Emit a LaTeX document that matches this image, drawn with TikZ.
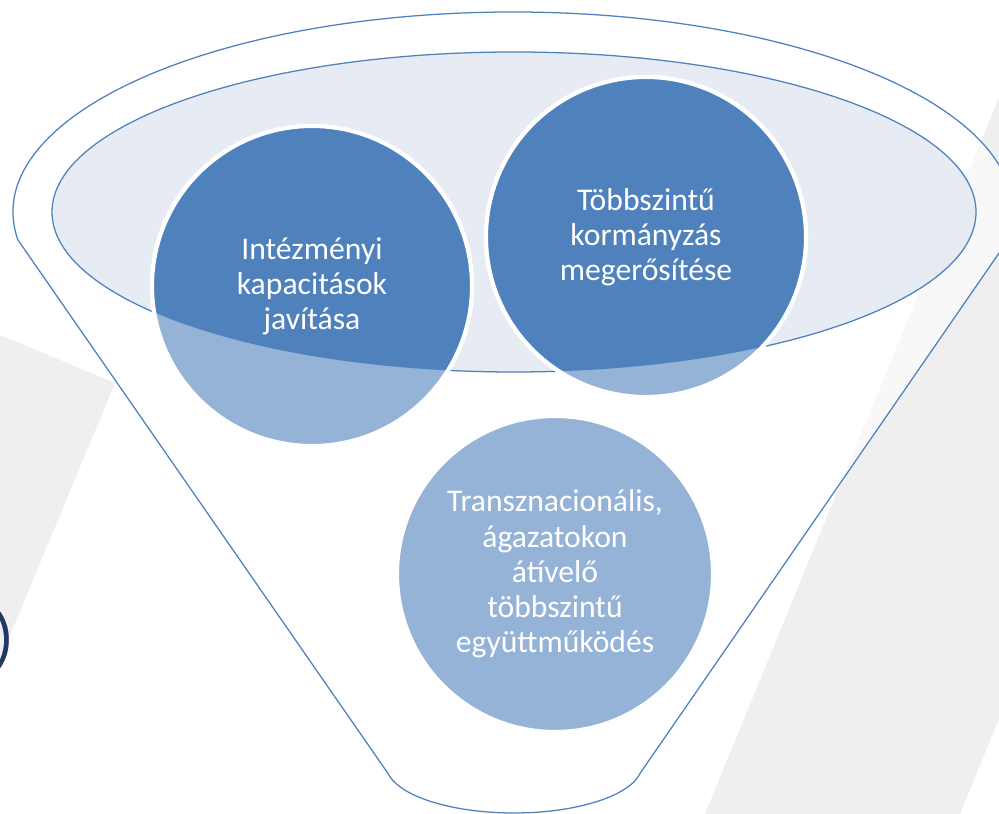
\documentclass[tikz,border=0pt]{standalone}
\usepackage{fontspec}
\setmainfont{Carlito}
\usepackage{xcolor}
\usepackage{tikz}
\definecolor{darkblue}{HTML}{4F81BD}
\definecolor{lightblue}{HTML}{95B3D7}
\definecolor{ellfill}{HTML}{E4E9F2}
\definecolor{bandgray}{HTML}{EFEFEF}
\definecolor{navy}{HTML}{1F3864}

\begin{document}
\begin{tikzpicture}[x=0.025cm, y=0.025cm,
    bubble/.style={circle, draw=white, line width=3pt, minimum size=8cm,
      inner sep=0pt, align=center, text=white,
      font=\fontsize{22.5}{25}\selectfont},
    rim/.style={draw=darkblue, line width=0.9pt}]
            \def \ecx {514}
            \def \ecy {602}
            \useasboundingbox (0,0) rectangle (999,814);
            \clip (0,0) rectangle (999,814);

            % grey bands behind
            \fill[bandgray] (-100,521) -- (115,431) -- (-17,114) -- (-100,114) -- cycle;
            \fill[bandgray] (705,0) -- (1039,814) -- (1294,814) -- (960,0) -- cycle;
            \node[font=\fontsize{46}{46}\selectfont, text=navy, anchor=east,
              inner sep=0pt] (paren) at (14,174) {)};

            % funnel
            \coordinate (fl) at ([shift={(513,602)}]188:500 and 200);
            \coordinate (br) at ([shift={(514,49)}]-10:128 and 48);
            \filldraw[rim, fill=white, fill opacity=0.6] (fl)
              arc[start angle=188, end angle=-8, x radius=500, y radius=200]
              -- (br) arc[start angle=-10, end angle=-170, x radius=128, y radius=48]
              -- cycle;
            \filldraw[rim, fill=ellfill, fill opacity=0.85] (\ecx,\ecy)
              ellipse[x radius=462, y radius=160];

            % circles
            \coordinate (p1) at (312,528);
            \coordinate (p2) at (646,577);
            \coordinate (p3) at (555,240);
            \fill[lightblue] (p1) circle[radius=160] (p2) circle[radius=160]
              (p3) circle[radius=158];
            \begin{scope}
              \clip (\ecx,\ecy) ellipse[x radius=462, y radius=160];
              \fill[darkblue] (p1) circle[radius=160] (p2) circle[radius=160];
            \end{scope}
            \node[bubble] (c1) at (p1) {Intézményi\\kapacitások\\javítása};
            \node[bubble] (c2) at (p2) {Többszintű\\kormányzás\\megerősítése};
            \node[bubble, minimum size=7.9cm] (c3) at (p3)
              {Transznacionális,\\ágazatokon\\átívelő\\többszintű\\együttműködés};
\end{tikzpicture}
\end{document}
